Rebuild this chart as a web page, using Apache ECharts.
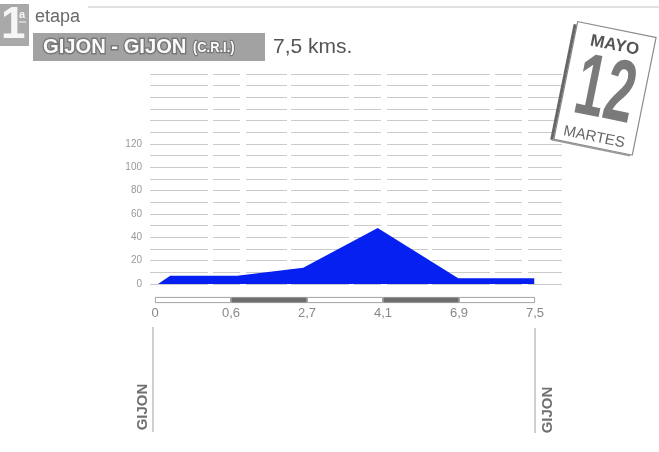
<!DOCTYPE html>
<html>
<head>
<meta charset="utf-8">
<script src="https://cdn.jsdelivr.net/npm/echarts@6/dist/echarts.min.js"></script>
<style>
  html, body { margin: 0; padding: 0; background: #fff; }
  #profile { width: 659px; height: 452px; }
</style>
</head>
<body>
<div id="profile"></div>
<script>
// km marks under the profile (equally spaced on the drawing)
var kmLabels = ['0', '0,6', '2,7', '4,1', '6,9', '7,5']
// profile points: position in segment units, altitude (m)
var profilePos = [0.04, 0.2, 1.08, 1.95, 2.93, 3.99, 4.99]
var profileAlt = [0, 7, 7, 14, 48, 5, 5]
// segment strip colours
var segColors = ['#ffffff', '#6e6e6e', '#ffffff', '#6e6e6e', '#ffffff']
var altTicks = [0, 20, 40, 60, 80, 100, 120]

var sans = "'Liberation Sans', Arial, sans-serif"

var chart = echarts.init(document.getElementById('profile'), null, { renderer: 'canvas' })

var profileData = profilePos.map(function (p, i) { return [p, profileAlt[i]] })

var segSeries = segColors.map(function (c, i) {
  return {
    type: 'bar',
    xAxisIndex: 2,
    yAxisIndex: 2,
    stack: 'seg',
    barWidth: 6,
    data: [1],
    silent: true,
    itemStyle: { color: c, borderColor: '#8a8a8a', borderWidth: 0.8 }
  }
})

chart.setOption({
  animation: false,
  backgroundColor: '#fff',
  grid: [
    { left: 150, right: 97, top: 74, bottom: 168 },
    { left: 155, right: 124, top: 74, bottom: 168 },
    { left: 155, right: 124, top: 297, height: 6 }
  ],
  xAxis: [
    { gridIndex: 0, type: 'value', min: 0, max: 1, show: false },
    { gridIndex: 1, type: 'value', min: 0, max: 5, show: false },
    {
      gridIndex: 2, type: 'value', min: 0, max: 5, interval: 1,
      axisLine: { show: false }, axisTick: { show: false }, splitLine: { show: false },
      axisLabel: {
        margin: 4, color: '#888', fontSize: 13, fontFamily: sans,
        formatter: function (v) { return kmLabels[Math.round(v)] }
      }
    }
  ],
  yAxis: [
    {
      gridIndex: 0, type: 'value', min: 0, max: 180, interval: 10,
      axisLine: { show: false }, axisTick: { show: false },
      axisLabel: {
        margin: 8, color: '#999', fontSize: 10, fontFamily: sans,
        formatter: function (v) { return altTicks.indexOf(v) >= 0 ? String(v) : '' }
      },
      splitLine: { lineStyle: { color: '#cbcbcb', width: 1, type: [58, 5, 27, 6, 41, 4] } }
    },
    { gridIndex: 1, type: 'value', min: 0, max: 180, show: false },
    { gridIndex: 2, type: 'category', data: ['tramos'], show: false }
  ],
  series: [
    {
      type: 'line',
      xAxisIndex: 1,
      yAxisIndex: 1,
      data: profileData,
      symbol: 'none',
      lineStyle: { width: 0 },
      areaStyle: { color: '#0520f0', opacity: 1 }
    }
  ].concat(segSeries)
})

// start / finish markers placed from the strip axis
var xStart = chart.convertToPixel({ xAxisIndex: 2 }, 0)
var xEnd = chart.convertToPixel({ xAxisIndex: 2 }, 5)

chart.setOption({
  graphic: [
    { type: 'line', shape: { x1: 88, y1: 7, x2: 659, y2: 7 }, style: { stroke: '#c4c4c4', lineWidth: 1 } },
    // stage number block
    { type: 'rect', shape: { x: 0, y: 4, width: 29, height: 42 }, style: { fill: '#a9a9a9' } },
    { type: 'text', x: 1, y: 4, style: { text: '1', font: 'bold 44px ' + sans, fill: '#f6f6f6' } },
    { type: 'text', x: 19, y: 9, style: { text: 'a', font: 'bold 11px ' + sans, fill: '#f6f6f6' } },
    { type: 'line', shape: { x1: 19, y1: 22, x2: 26, y2: 22 }, style: { stroke: '#f6f6f6', lineWidth: 1 } },
    { type: 'text', x: 35, y: 8, style: { text: 'etapa', font: '18px ' + sans, fill: '#6a6a6a' } },
    { type: 'rect', shape: { x: 33, y: 33, width: 232, height: 28 }, style: { fill: '#a2a2a2' } },
    {
      type: 'text', x: 43, y: 47, scaleX: 0.96,
      style: { text: 'GIJON - GIJON', font: 'bold 21px ' + sans, fill: '#fafafa', stroke: '#787878', lineWidth: 3, strokeFirst: true, verticalAlign: 'middle' }
    },
    {
      type: 'text', x: 193, y: 48, scaleX: 0.92,
      style: { text: '(C.R.I.)', font: 'bold 14px ' + sans, fill: '#fafafa', stroke: '#787878', lineWidth: 2.4, strokeFirst: true, verticalAlign: 'middle' }
    },
    { type: 'text', x: 273, y: 47, style: { text: '7,5 kms.', font: '21px ' + sans, fill: '#555', verticalAlign: 'middle' } },
    // date card
    {
      type: 'group', x: 603, y: 88, rotation: -0.2,
      children: [
        { type: 'rect', shape: { x: -38, y: -60, width: 80, height: 120 }, style: { fill: '#fff', stroke: '#8a8a8a', lineWidth: 1.2 } },
        { type: 'line', shape: { x1: -40, y1: -57, x2: -40, y2: 61 }, style: { stroke: '#666', lineWidth: 3 } },
        { type: 'line', shape: { x1: -40, y1: 61, x2: 40, y2: 61 }, style: { stroke: '#999', lineWidth: 1.5 } },
        { type: 'text', x: 3, y: -44, style: { text: 'MAYO', font: 'bold 17px ' + sans, fill: '#555', align: 'center', verticalAlign: 'middle' } },
        {
          type: 'text', x: 3, y: 5, scaleX: 0.6,
          style: { text: '12', font: 'bold 88px ' + sans, fill: '#7a7a7a', align: 'center', verticalAlign: 'middle' }
        },
        { type: 'text', x: 1, y: 50, style: { text: 'MARTES', font: '15px ' + sans, fill: '#666', align: 'center', verticalAlign: 'middle' } }
      ]
    },
    // start / finish
    { type: 'line', shape: { x1: xStart - 2, y1: 327, x2: xStart - 2, y2: 432 }, style: { stroke: '#a0a0a0', lineWidth: 1 } },
    { type: 'line', shape: { x1: xEnd, y1: 328, x2: xEnd, y2: 433 }, style: { stroke: '#a0a0a0', lineWidth: 1 } },
    {
      type: 'text', x: xStart - 12, y: 407, rotation: Math.PI / 2,
      style: { text: 'GIJON', font: 'bold 15px ' + sans, fill: '#707070', align: 'center', verticalAlign: 'middle' }
    },
    {
      type: 'text', x: xEnd + 13, y: 410, rotation: Math.PI / 2,
      style: { text: 'GIJON', font: 'bold 15px ' + sans, fill: '#707070', align: 'center', verticalAlign: 'middle' }
    }
  ]
})
</script>
</body>
</html>
